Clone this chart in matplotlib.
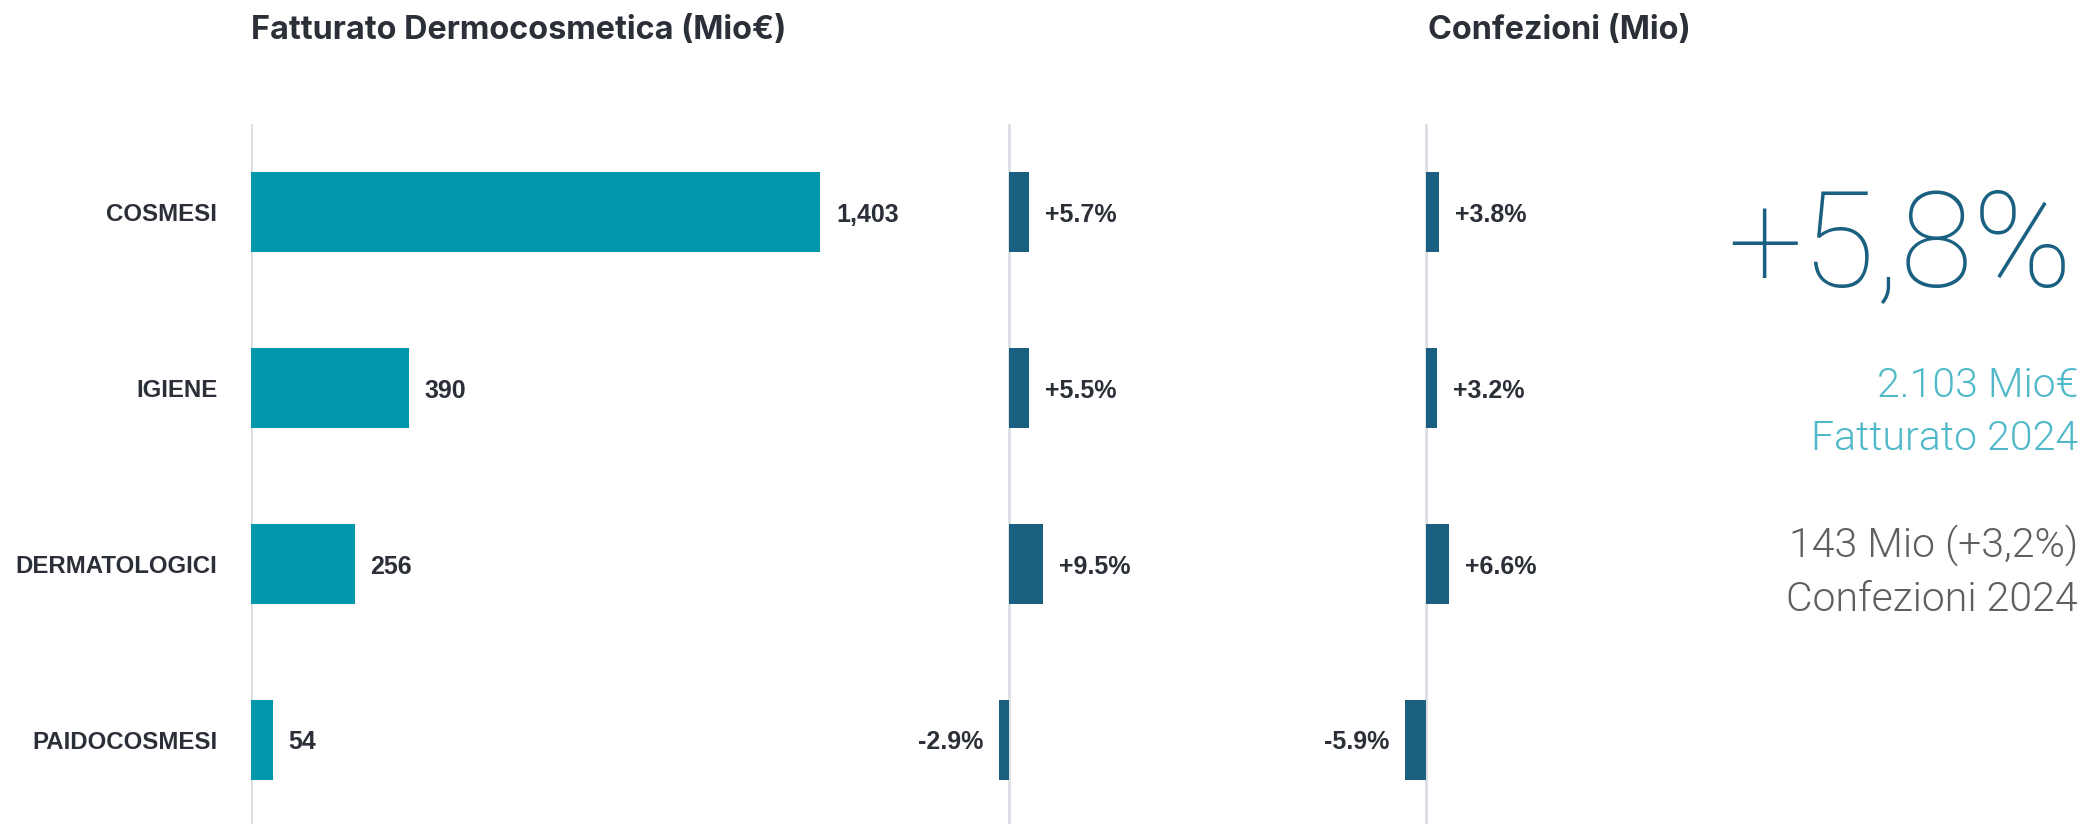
import matplotlib
matplotlib.use("Agg")
import matplotlib.pyplot as plt

# -----------------------------
# Dati
# -----------------------------
categorie = ["COSMESI", "IGIENE", "DERMATOLOGICI", "PAIDOCOSMESI"]
fatturato = [1403, 390, 256, 54]
var_fatturato = [5.7, 5.5, 9.5, -2.9]
var_confezioni = [3.8, 3.2, 6.6, -5.9]

titolo_fatturato = "Fatturato Dermocosmetica (Mio€)"
titolo_confezioni = "Confezioni (Mio)"
kpi_grande = "+5,8%"
kpi_righe = [
    ("2.103 Mio€", "#4fb9c9"),
    ("Fatturato 2024", "#4fb9c9"),
    ("143 Mio (+3,2%)", "#5f5f5f"),
    ("Confezioni 2024", "#5f5f5f"),
]

# -----------------------------
# Stile
# -----------------------------
W, H = 2085, 824
DPI = 100
COL_BAR = "#0097aa"
COL_VAR = "#1a6080"
COL_TXT = "#2b2f38"
COL_AX = "#dcdee3"
FONT_LBL = "Liberation Sans"
FONT_TIT = "Inter"
FONT_KPI = "Roboto"

fig = plt.figure(figsize=(W / DPI, H / DPI), dpi=DPI)
fig.patch.set_facecolor("white")

y_top, y_bot = 124, 824       # estensione verticale assi (px)
passo = 176                    # distanza tra categorie (px)
y0 = 212                       # centro prima categoria (px)
ylim = (3 + (y_bot - (y0 + 3 * passo)) / passo, -(y0 - y_top) / passo)


def crea_asse(x_sx, x_dx, x_zero, px_unita):
    ax = fig.add_axes([x_sx / W, 1 - y_bot / H, (x_dx - x_sx) / W, (y_bot - y_top) / H])
    ax.set_xlim(-(x_zero - x_sx) / px_unita, (x_dx - x_zero) / px_unita)
    ax.set_ylim(*ylim)
    ax.patch.set_alpha(0)
    for s in ax.spines.values():
        s.set_visible(False)
    ax.set_xticks([])
    ax.set_yticks([])
    ax.axvline(0, color=COL_AX, lw=2, zorder=0)
    return ax


pos = list(range(len(categorie)))

# -----------------------------
# Fatturato
# -----------------------------
ax1 = crea_asse(250.7, 900, 250.7, 0.4058)
ax1.barh(pos, fatturato, height=0.455, color=COL_BAR, zorder=2)
ax1.set_yticks(pos)
ax1.set_yticklabels(categorie, fontfamily=FONT_LBL, fontweight="bold", fontsize=17.3,
                    color=COL_TXT, va="center_baseline")
ax1.tick_params(axis="y", length=0, pad=24)
for p, v in zip(pos, fatturato):
    ax1.annotate(f"{v:,}", (v, p), xytext=(11.5, 0), textcoords="offset points",
                 ha="left", va="center_baseline", fontfamily=FONT_LBL, fontweight="bold",
                 fontsize=18, color=COL_TXT)


def barre_var(ax, valori):
    ax.barh(pos, valori, height=0.455, color=COL_VAR, zorder=2)
    for p, v in zip(pos, valori):
        testo = f"{v:+.1f}%"
        dx = 11.5 if v >= 0 else -11.5
        ax.annotate(testo, (v, p), xytext=(dx, 0), textcoords="offset points",
                    ha="left" if v >= 0 else "right", va="center_baseline",
                    fontfamily=FONT_LBL, fontweight="bold", fontsize=18, color=COL_TXT)


ax2 = crea_asse(900, 1300, 1009.3, 3.51)
barre_var(ax2, var_fatturato)

ax3 = crea_asse(1300, 1700, 1426, 3.5)
barre_var(ax3, var_confezioni)

# -----------------------------
# Titoli
# -----------------------------
fig.text(251 / W, 1 - 39 / H, titolo_fatturato, ha="left", va="baseline",
         fontfamily=FONT_TIT, fontweight="bold", fontsize=23.3, color=COL_TXT)
fig.text(1428 / W, 1 - 39 / H, titolo_confezioni, ha="left", va="baseline",
         fontfamily=FONT_TIT, fontweight="bold", fontsize=23.3, color=COL_TXT)

# -----------------------------
# KPI a destra
# -----------------------------
fig.text(2072 / W, 1 - 287 / H, kpi_grande, ha="right", va="baseline",
         fontfamily=FONT_KPI, fontweight=100, fontsize=96, color=COL_VAR)
for (t, c), yb in zip(kpi_righe, [397, 450, 557, 611]):
    fig.text(2078 / W, 1 - yb / H, t, ha="right", va="baseline",
             fontfamily=FONT_KPI, fontweight=300, fontsize=29.5, color=c)

fig.savefig("out.png", dpi=DPI, facecolor="white")
